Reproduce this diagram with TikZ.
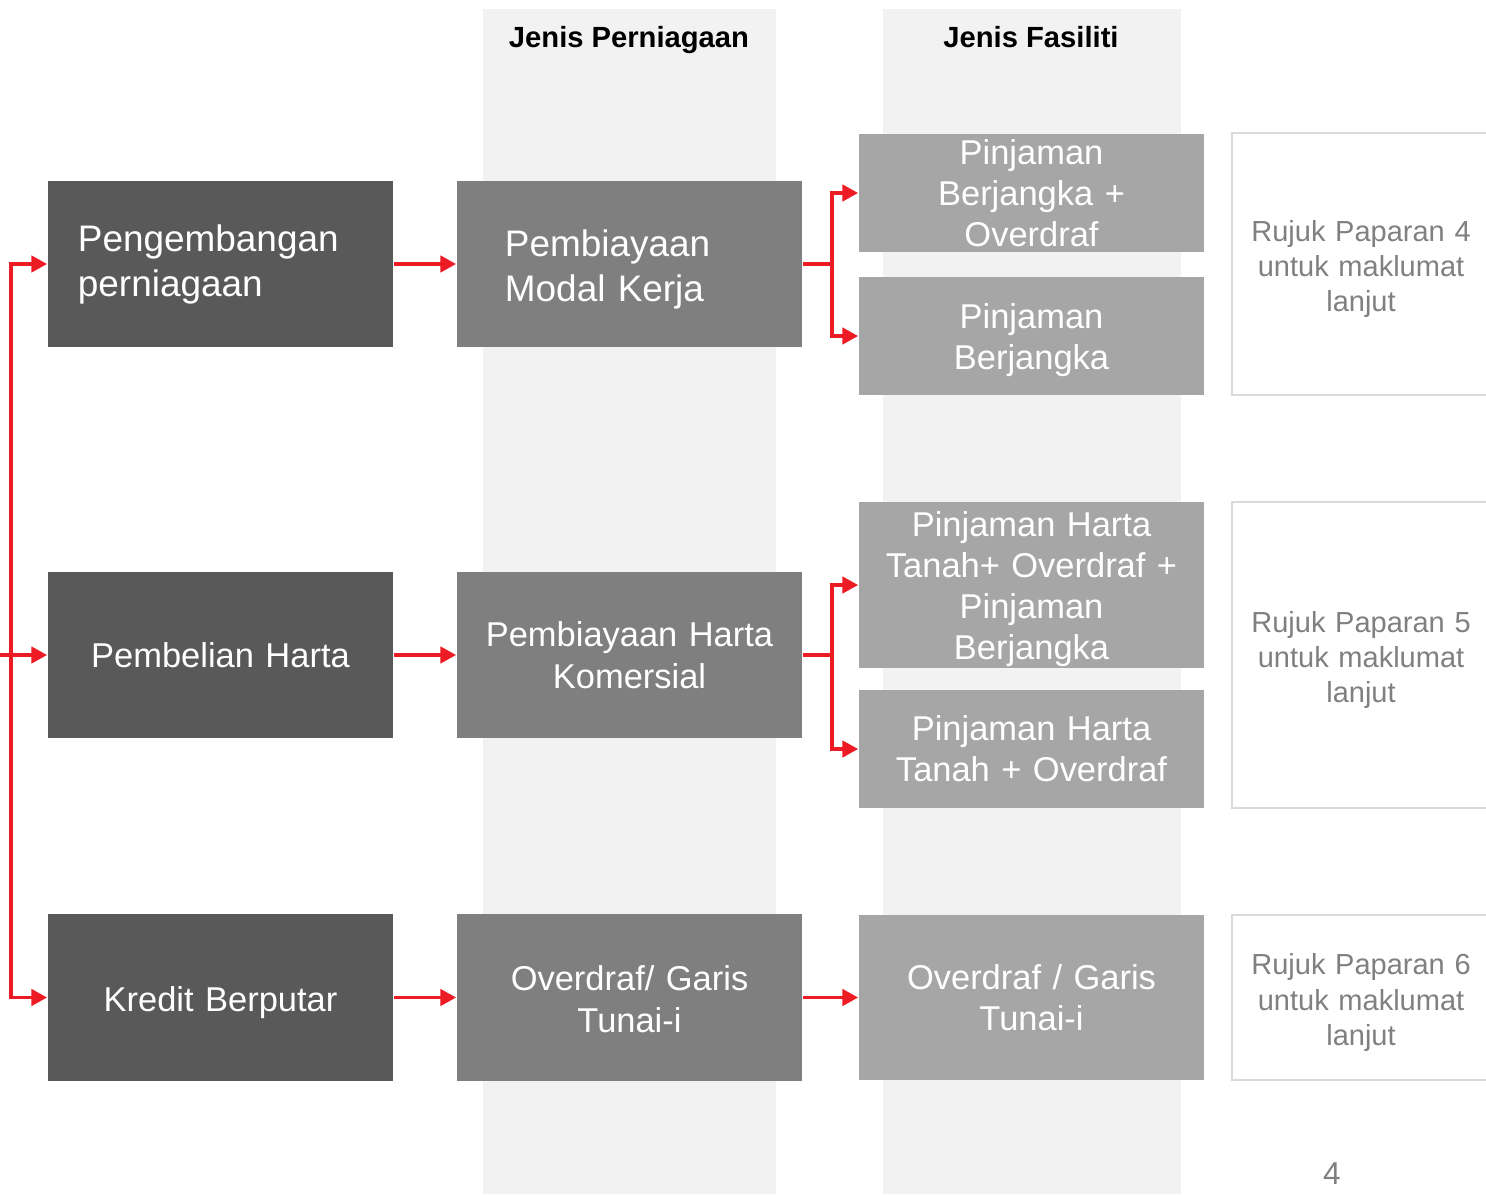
\documentclass[tikz,border=0pt]{standalone}
\usepackage{fontspec}
\setmainfont{Liberation Sans}
\usetikzlibrary{arrows.meta}
\definecolor{kotakgelap}{HTML}{595959}
\definecolor{kotaksederhana}{HTML}{7F7F7F}
\definecolor{kotakcerah}{HTML}{A6A6A6}
\definecolor{lajur}{HTML}{F2F2F2}
\definecolor{garismerah}{HTML}{ED1C24}
\definecolor{teksrujuk}{HTML}{808080}
\definecolor{sempadan}{HTML}{DADADA}

\begin{document}
\begin{tikzpicture}[x=0.01cm,y=-0.01cm,>={Triangle[length=4.5pt,width=4.6pt]},
  kotak/.style={inner sep=0pt, minimum width=3.45cm, text width=3.45cm, text=white, align=center},
  kotakkiri/.style={kotak, fill=kotakgelap, minimum height=1.66cm},
  kotaktengah/.style={kotak, fill=kotaksederhana, minimum height=1.66cm},
  kotakkanan/.style={kotak, fill=kotakcerah, font=\fontsize{9.8}{11.7}\selectfont},
  besar/.style={font=\fontsize{10.5}{12.8}\selectfont},
  sederhana/.style={font=\fontsize{9.8}{11.9}\selectfont},
  turun/.style={execute at begin node={\rule{0pt}{\dimexpr0.74em+#1\relax}}},
  rujuk/.style={draw=sempadan, line width=0.4pt, fill=white, inner sep=0pt, minimum width=2.58cm,
    text width=2.58cm, text=teksrujuk, align=center, font=\fontsize{8.25}{10}\selectfont, turun=2.8pt},
  tajuk/.style={font=\fontsize{8.3}{10}\selectfont\bfseries},
  garis/.style={draw=garismerah, line width=1.1pt}]

\useasboundingbox (0,0) rectangle (1486,1194);

%Lajur latar
\fill[lajur] (483,9) rectangle (776,1194);
\fill[lajur] (883,9) rectangle (1181,1194);
\node[tajuk] (tajukperniagaan) at (629,40) {Jenis Perniagaan};
\node[tajuk] (tajukfasiliti) at (1031,37) {Jenis Fasiliti};

%Kotak kiri
\node[kotakkiri, besar, text width=2.85cm, align=left] (pengembangan) at (220.5,264) {Pengembangan\\perniagaan};
\node[kotakkiri, sederhana] (pembelian) at (220.5,655) {Pembelian Harta};
\node[kotakkiri, sederhana, turun=2.8pt] (kredit) at (220.5,997.5) {Kredit Berputar};

%Kotak tengah
\node[kotaktengah, besar, text width=2.49cm, align=left, turun=2.8pt] (modalkerja) at (629.5,264) {Pembiayaan\\Modal Kerja};
\node[kotaktengah, sederhana] (komersial) at (629.5,655) {Pembiayaan Harta\\Komersial};
\node[kotaktengah, sederhana, turun=1pt] (overdraf) at (629.5,997.5) {Overdraf/ Garis\\Tunai-i};

%Kotak kanan
\node[kotakkanan, minimum height=1.18cm] (fasiliti1a) at (1031.5,193) {Pinjaman\\Berjangka +\\Overdraf};
\node[kotakkanan, minimum height=1.18cm, turun=2.3pt] (fasiliti1b) at (1031.5,336) {Pinjaman\\Berjangka};
\node[kotakkanan, minimum height=1.66cm, turun=2.3pt] (fasiliti2a) at (1031.5,585) {Pinjaman Harta\\Tanah+ Overdraf +\\Pinjaman\\Berjangka};
\node[kotakkanan, minimum height=1.18cm] (fasiliti2b) at (1031.5,749) {Pinjaman Harta\\Tanah + Overdraf};
\node[kotakkanan, minimum height=1.65cm] (fasiliti3) at (1031.5,997.5) {Overdraf / Garis\\Tunai-i};

%Rujukan
\node[rujuk, minimum height=2.62cm] (rujuk4) at (1361,264) {Rujuk Paparan 4\\untuk maklumat\\lanjut};
\node[rujuk, minimum height=3.06cm] (rujuk5) at (1361,655) {Rujuk Paparan 5\\untuk maklumat\\lanjut};
\node[rujuk, minimum height=1.65cm] (rujuk6) at (1361,997.5) {Rujuk Paparan 6\\untuk maklumat\\lanjut};

\node[text=teksrujuk, font=\fontsize{9}{10}\selectfont] (halaman) at (1332,1174) {4};

%Anak panah
\coordinate (masuk) at (0,655);
\draw[garis, <->] (pengembangan.west) -- ++(-36,0) |- (kredit.west);
\draw[garis, ->] (masuk) -- (pembelian.west);

\draw[garis, ->] (pengembangan.east) -- (modalkerja.west);
\draw[garis, ->] (pembelian.east) -- (komersial.west);
\draw[garis, ->] (kredit.east) -- (overdraf.west);

\draw[garis, ->] (modalkerja.east) -- ++(29,0) |- (fasiliti1a.west);
\draw[garis, ->] (modalkerja.east) -- ++(29,0) |- (fasiliti1b.west);
\draw[garis, ->] (komersial.east) -- ++(29,0) |- (fasiliti2a.west);
\draw[garis, ->] (komersial.east) -- ++(29,0) |- (fasiliti2b.west);
\draw[garis, ->] (overdraf.east) -- (fasiliti3.west);

\end{tikzpicture}
\end{document}
